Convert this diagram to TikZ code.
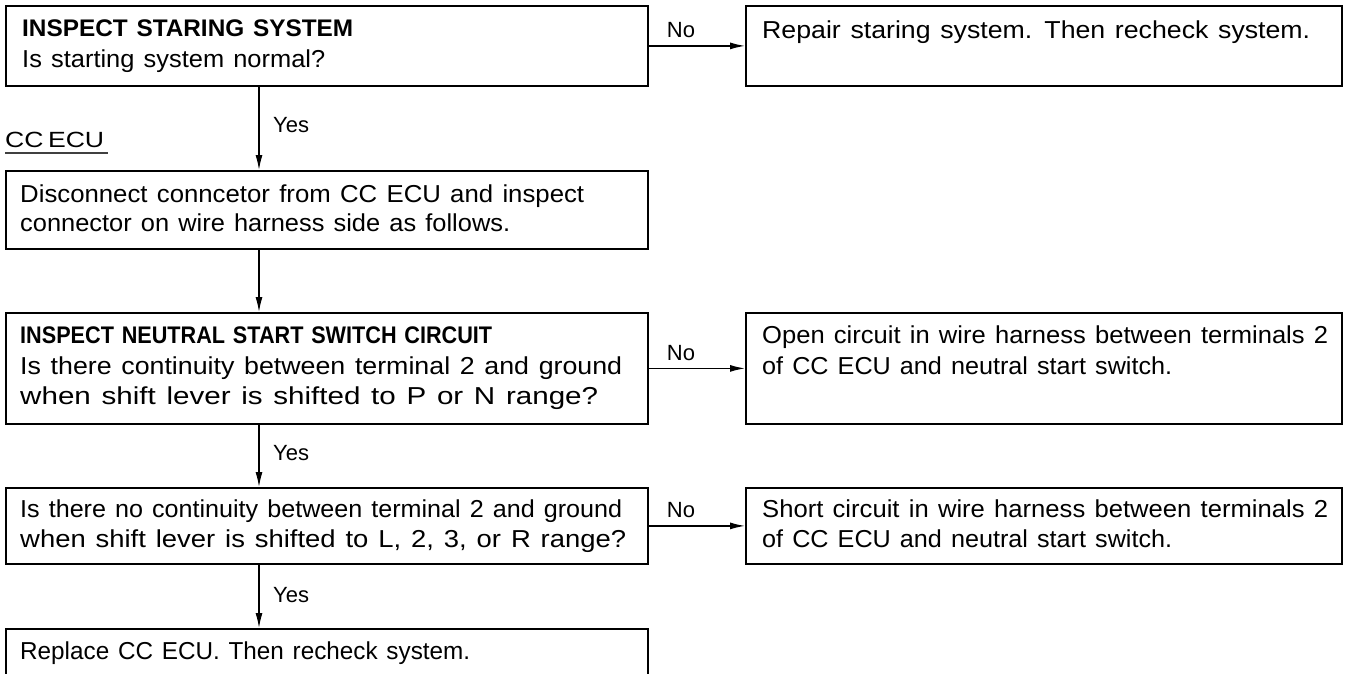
\documentclass[tikz,border=0pt]{standalone}
\usepackage{fontspec}
\usepackage{graphicx}
\setmainfont{Liberation Sans}[WordSpace=1.3]
\usetikzlibrary{arrows.meta,calc}
\newcommand\fitline[2]{\resizebox{#1pt}{\height}{#2}}
\begin{document}
\begin{tikzpicture}[x=1pt,y=-1pt,
  box/.style={draw,line width=1.8pt,rectangle,anchor=north west,inner sep=0pt},
  lbox/.style={box,minimum width=642pt},
  rbox/.style={box,minimum width=596pt},
  txt/.style={anchor=base west,inner sep=0pt,font=\fontsize{24.5}{28}\selectfont},
  btxt/.style={txt,font=\fontsize{24}{28}\selectfont\bfseries},
  lab/.style={inner sep=0pt,font=\fontsize{22}{26}\selectfont},
  arr/.style={line width=1.3pt,-{Latex[length=15pt,width=7pt]}}]
\clip (0,0) rectangle (1353,673);
% boxes
\node[lbox,minimum height=80pt] (b1) at (5,5) {};
\node[rbox,minimum height=80pt] (r1) at (745,5) {};
\node[lbox,minimum height=78pt] (b2) at (5,170) {};
\node[lbox,minimum height=111pt] (b3) at (5,312) {};
\node[rbox,minimum height=111pt] (r3) at (745,312) {};
\node[lbox,minimum height=76pt] (b4) at (5,487) {};
\node[rbox,minimum height=76pt] (r4) at (745,487) {};
\node[lbox,minimum height=80pt] (b5) at (5,628) {};
% texts
\node[btxt] (t1a) at (22,36) {\fitline{331}{INSPECT STARING SYSTEM}};
\node[txt] (t1b) at (22,67) {\fitline{303}{Is starting system normal?}};
\node[txt] (tr1) at (762,38) {\fitline{548}{Repair staring system. Then recheck system.}};
\node[txt] (t2a) at (20,202) {\fitline{564}{Disconnect conncetor from CC ECU and inspect}};
\node[txt] (t2b) at (20,231) {\fitline{490}{connector on wire harness side as follows.}};
\node[btxt] (t3a) at (20,343) {\fitline{472}{INSPECT NEUTRAL START SWITCH CIRCUIT}};
\node[txt] (t3b) at (20,374) {\fitline{602}{Is there continuity between terminal 2 and ground}};
\node[txt] (t3c) at (20,404) {\fitline{578}{when shift lever is shifted to P or N range?}};
\node[txt] (tr3a) at (762,343) {\fitline{566}{Open circuit in wire harness between terminals 2}};
\node[txt] (tr3b) at (762,374) {\fitline{410}{of CC ECU and neutral start switch.}};
\node[txt] (t4a) at (20,517) {\fitline{602}{Is there no continuity between terminal 2 and ground}};
\node[txt] (t4b) at (20,547) {\fitline{606}{when shift lever is shifted to L, 2, 3, or R range?}};
\node[txt] (tr4a) at (762,517) {\fitline{566}{Short circuit in wire harness between terminals 2}};
\node[txt] (tr4b) at (762,547) {\fitline{410}{of CC ECU and neutral start switch.}};
\node[txt] (t5) at (20,659) {\fitline{450}{Replace CC ECU. Then recheck system.}};
% CC ECU label
\node[txt,font=\fontsize{22}{26}\selectfont] (cc) at (5,147) {\fitline{99}{CC\,ECU}};
\draw[line width=1.5pt,black!75] ([yshift=-6pt]cc.base west) -- ([yshift=-6pt,xshift=4pt]cc.base east);
% connectors
\coordinate (vx) at (259,0);
\draw[arr] (b1.east) -- (r1.west);
\draw[arr] (b3.east) -- (r3.west);
\draw[arr] (b4.east) -- (r4.west);
\draw[arr] (b1.south -| vx) -- (b2.north -| vx);
\draw[arr] (b2.south -| vx) -- (b3.north -| vx);
\draw[arr] (b3.south -| vx) -- (b4.north -| vx);
\draw[arr] (b4.south -| vx) -- (b5.north -| vx);
% labels
\node[lab,anchor=base] (n1) at (681,37) {No};
\node[lab,anchor=base] (n3) at (681,360) {No};
\node[lab,anchor=base] (n4) at (681,517) {No};
\node[lab,anchor=base west] (y1) at (273,132) {Yes};
\node[lab,anchor=base west] (y2) at (273,460) {Yes};
\node[lab,anchor=base west] (y3) at (273,602) {Yes};
\end{tikzpicture}
\end{document}
